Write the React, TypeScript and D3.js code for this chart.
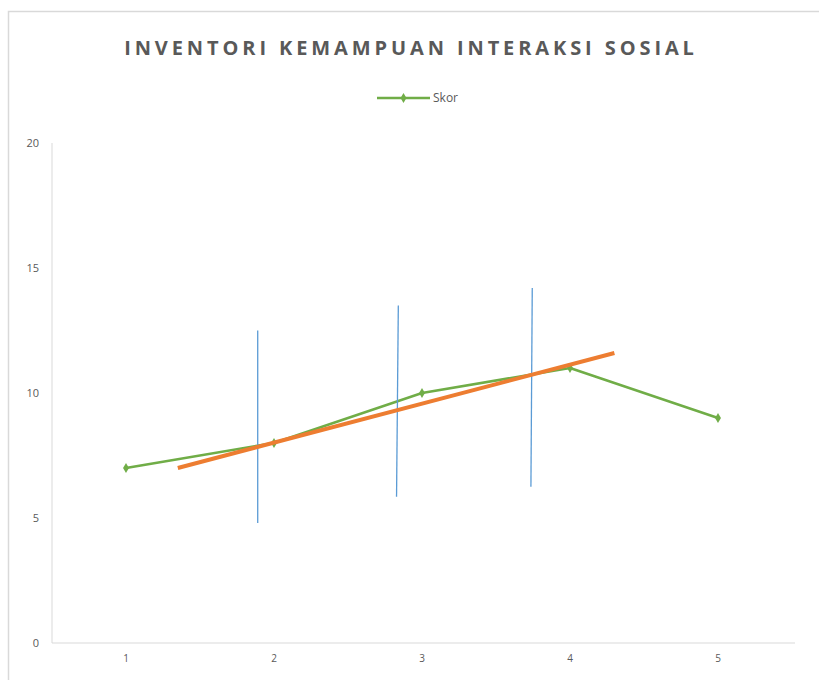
import React, { useRef, useEffect } from "react";
import * as d3 from "d3";

const chartTitle = "INVENTORI KEMAMPUAN INTERAKSI SOSIAL";
const seriesName = "Skor";
const categories = ["1", "2", "3", "4", "5"];
const skor = [7, 8, 10, 11, 9];
const yTicks = [0, 5, 10, 15, 20];

// hand-drawn trend line (category position, value)
const trendLine = [
  { x: 1.35, y: 7.0 },
  { x: 4.3, y: 11.6 },
];

// hand-drawn vertical markers, top and bottom ends
const markerLines = [
  [{ x: 1.89, y: 12.5 }, { x: 1.89, y: 4.8 }],
  [{ x: 2.84, y: 13.5 }, { x: 2.828, y: 5.85 }],
  [{ x: 3.745, y: 14.2 }, { x: 3.736, y: 6.25 }],
];

const App = () => {
  const svgRef = useRef<SVGSVGElement>(null);

  useEffect(() => {
    const width = 819;
    const height = 680;
    const left = 52;
    const right = 792;
    const top = 143;
    const bottom = 643;
    const font = "'Open Sans', 'DejaVu Sans', sans-serif";
    const textColor = "#595959";

    const svg = d3.select(svgRef.current)
      .attr("width", width)
      .attr("height", height);
    svg.selectAll("*").remove();

    // outer frame
    svg.append("path")
      .attr("d", `M8.5,${height} V11.5 H${width}`)
      .attr("fill", "none")
      .attr("stroke", "#d9d9d9")
      .attr("stroke-width", 1.5);

    const xBand = d3.scaleBand<string>()
      .domain(categories)
      .range([left, right]);
    const step = xBand.step();
    // numeric position: category index 1..n maps to band centres
    const xPos = d3.scaleLinear()
      .domain([1, categories.length])
      .range([left + step / 2, right - step / 2]);

    const yScale = d3.scaleLinear()
      .domain([0, 20])
      .range([bottom, top]);

    // axis lines
    svg.append("line")
      .attr("x1", left).attr("x2", left)
      .attr("y1", top).attr("y2", bottom)
      .attr("stroke", "#d9d9d9").attr("stroke-width", 1);
    svg.append("line")
      .attr("x1", left).attr("x2", right + 3)
      .attr("y1", bottom).attr("y2", bottom)
      .attr("stroke", "#d9d9d9").attr("stroke-width", 1);

    // y tick labels
    svg.append("g")
      .selectAll("text")
      .data(yTicks)
      .enter()
      .append("text")
      .attr("x", 39)
      .attr("y", d => yScale(d))
      .attr("dy", "0.35em")
      .attr("text-anchor", "end")
      .attr("font-family", font)
      .attr("font-size", 11)
      .attr("fill", textColor)
      .text(d => d);

    // x tick labels
    svg.append("g")
      .selectAll("text")
      .data(categories)
      .enter()
      .append("text")
      .attr("x", d => (xBand(d) as number) + step / 2)
      .attr("y", 658)
      .attr("dy", "0.35em")
      .attr("text-anchor", "middle")
      .attr("font-family", font)
      .attr("font-size", 10)
      .attr("fill", textColor)
      .text(d => d);

    // title
    svg.append("text")
      .attr("x", 411)
      .attr("y", 48)
      .attr("dy", "0.35em")
      .attr("text-anchor", "middle")
      .attr("font-family", font)
      .attr("font-size", 20)
      .attr("font-weight", "bold")
      .attr("letter-spacing", 3.9)
      .attr("fill", textColor)
      .text(chartTitle);

    const diamond = d3.symbol().type(d3.symbolDiamond).size(30);

    // legend
    const legend = svg.append("g").attr("transform", "translate(377,98)");
    legend.append("line")
      .attr("x1", 0).attr("x2", 53)
      .attr("stroke", "#70ad47").attr("stroke-width", 2.5);
    legend.append("path")
      .attr("d", diamond() as string)
      .attr("transform", "translate(26.5,0)")
      .attr("fill", "#70ad47");
    legend.append("text")
      .attr("x", 56)
      .attr("dy", "0.35em")
      .attr("font-family", font)
      .attr("font-size", 12)
      .attr("fill", textColor)
      .text(seriesName);

    const pointLine = d3.line<{ x: number; y: number }>()
      .x(d => xPos(d.x))
      .y(d => yScale(d.y));

    // series line
    const seriesPts = skor.map((v, i) => ({ x: i + 1, y: v }));
    svg.append("path")
      .attr("d", pointLine(seriesPts) as string)
      .attr("fill", "none")
      .attr("stroke", "#70ad47")
      .attr("stroke-width", 2.5)
      .attr("stroke-linejoin", "round");
    svg.append("g")
      .selectAll("path")
      .data(seriesPts)
      .enter()
      .append("path")
      .attr("d", diamond() as string)
      .attr("transform", d => `translate(${xPos(d.x)},${yScale(d.y)})`)
      .attr("fill", "#70ad47");

    // blue markers
    svg.append("g")
      .selectAll("path")
      .data(markerLines)
      .enter()
      .append("path")
      .attr("d", d => pointLine(d) as string)
      .attr("fill", "none")
      .attr("stroke", "#5b9bd5")
      .attr("stroke-width", 1.3);

    // orange trend line
    svg.append("path")
      .attr("d", pointLine(trendLine) as string)
      .attr("fill", "none")
      .attr("stroke", "#ed7d31")
      .attr("stroke-width", 4);
  }, []);

  return (
    <svg ref={svgRef} style={{ position: "absolute", left: 0, top: 0 }}></svg>
  );
};

export default App;
